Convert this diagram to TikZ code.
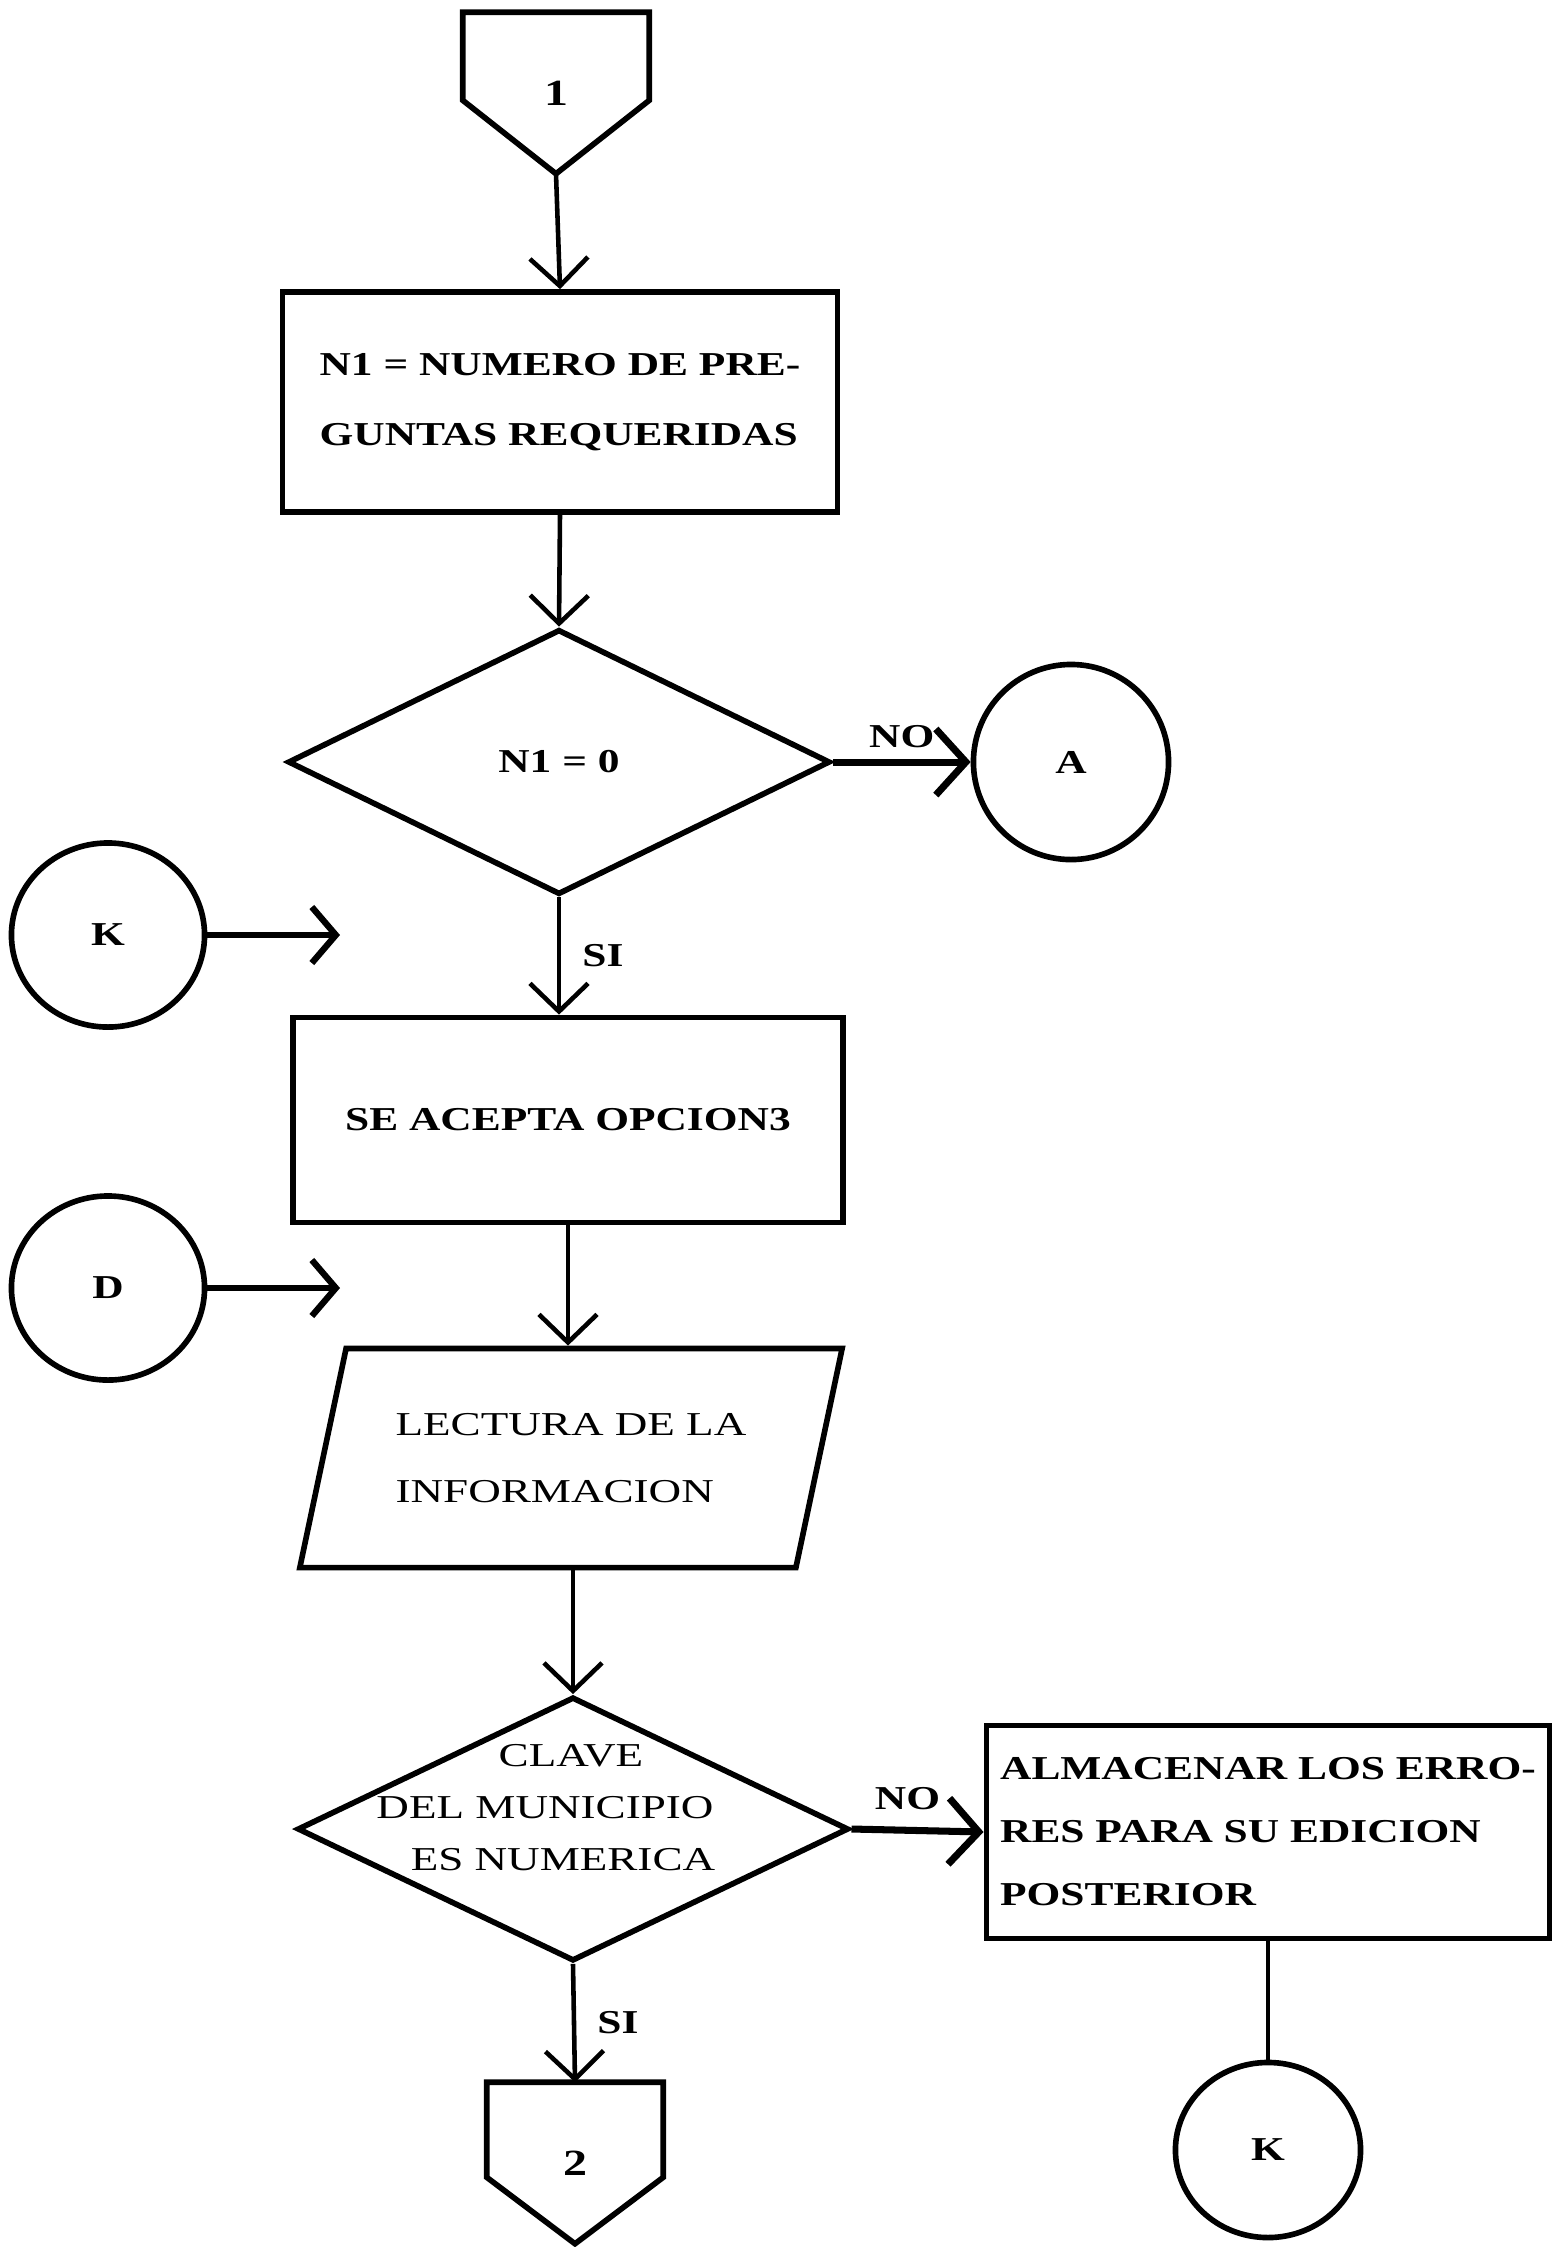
\documentclass[tikz,border=0pt]{standalone}
\usepackage{fontspec}
\setmainfont{Liberation Serif}
\newfontfamily\wbf[FakeStretch=1.3]{Liberation Serif}
\newfontfamily\wrg[FakeStretch=1.35]{Liberation Serif}
\usetikzlibrary{shapes.geometric,arrows.meta}
\begin{document}
\begin{tikzpicture}[x=0.01cm,y=-0.01cm,
  shp/.style={draw, line width=1.6pt, inner sep=0pt},
  proc/.style={shp, rectangle},
  dec/.style={shp, diamond},
  conn/.style={shp, ellipse, font=\wbf\bfseries\fontsize{9.5}{11}\selectfont},
  offp/.style={rectangle, inner sep=0pt, font=\wbf\bfseries\fontsize{10.5}{12}\selectfont},
  offline/.style={line width=1.6pt, line join=miter},
  bt/.style={font=\wbf\bfseries\fontsize{9.5}{20}\selectfont},
  lbl/.style={font=\wbf\bfseries\fontsize{9.5}{11}\selectfont, inner sep=2pt},
  flow/.style={line width=1.3pt, -{Straight Barb[length=0.28cm,width=0.58cm]}},
  hflow/.style={line width=2pt, -{Straight Barb[length=0.3cm,width=0.66cm]}},
  kflow/.style={line width=1.8pt, -{Straight Barb[length=0.24cm,width=0.56cm]}},
  plain/.style={line width=1.3pt}
]
\fill[white] (0,0) rectangle (1556,2247);
\useasboundingbox (0,0) rectangle (1556,2247);

% nodes
\node[offp, minimum width=1.85cm, minimum height=1.6cm] (p1) at (556,93) {1};
\draw[offline] (p1.north west) -- (p1.north east) -- ([yshift=-0.88cm]p1.north east)
  -- (p1.south) -- ([yshift=-0.88cm]p1.north west) -- cycle;
\node[proc, minimum width=5.55cm, minimum height=2.2cm, bt, align=left] (b1) at (560,402)
  {N1 = NUMERO DE PRE-\\GUNTAS REQUERIDAS};
\node[dec, minimum width=5.42cm, minimum height=2.65cm, bt] (d1) at (559,762) {N1 = 0};
\node[conn, minimum width=1.95cm, minimum height=1.95cm] (cA) at (1071,762) {A};
\node[conn, minimum width=1.93cm, minimum height=1.84cm] (cK1) at (108,935) {K};
\coordinate (k1e) at (340,935);
\node[proc, minimum width=5.5cm, minimum height=2.05cm, bt] (b2) at (568,1120) {SE ACEPTA OPCION3};
\node[conn, minimum width=1.93cm, minimum height=1.84cm] (cD) at (108,1288) {D};
\coordinate (de) at (340,1288);
\node[shp, trapezium, trapezium left angle=68, trapezium right angle=112, trapezium stretches=true,
  minimum width=5.43cm, minimum height=2.19cm, align=left,
  font=\wrg\fontsize{9.5}{19}\selectfont] (par) at (571,1458) {LECTURA DE LA\\INFORMACION};
\node[dec, minimum width=5.51cm, minimum height=2.64cm] (d2) at (573,1829) {};
\node[align=center, inner sep=0pt, font=\wrg\fontsize{9.5}{14.8}\selectfont] (d2t) at (571,1808)
  {CLAVE\\\hspace*{-0.52cm}DEL MUNICIPIO\\\hspace*{-0.16cm}ES NUMERICA};
\node[proc, minimum width=5.63cm, minimum height=2.13cm, bt, align=left,
  font=\wbf\bfseries\fontsize{9.5}{17.9}\selectfont] (b3) at (1268,1832)
  {ALMACENAR LOS ERRO-\\RES PARA SU EDICION\\POSTERIOR};
\node[offp, minimum width=1.75cm, minimum height=1.6cm] (p2) at (575,2163) {2};
\draw[offline] (p2.north west) -- (p2.north east) -- ([yshift=-0.95cm]p2.north east)
  -- (p2.south) -- ([yshift=-0.95cm]p2.north west) -- cycle;
\node[conn, minimum width=1.85cm, minimum height=1.75cm] (cK2) at (1268,2150) {K};

% connectors
\draw[flow] (p1.south) -- (b1.north);
\draw[flow] (b1.south) -- (d1.north);
\draw[hflow] (d1.east) -- node[lbl, above=1pt] {NO} (cA.west);
\draw[flow] (d1.south) -- node[lbl, right=4pt] {SI} (d1.south |- b2.north);
\draw[kflow] (cK1.east) -- (k1e);
\draw[kflow] (cD.east) -- (de);
\draw[flow] (b2.south) -- (b2.south |- par.north);
\draw[flow] (d2.north |- par.south) -- (d2.north);
\draw[hflow] (d2.east) -- node[lbl, above=3pt, xshift=-0.1cm] {NO} (b3.west);
\draw[flow] (d2.south) -- node[lbl, right=4pt] {SI} (p2.north);
\draw[plain] (b3.south) -- (cK2.north);
\end{tikzpicture}
\end{document}
